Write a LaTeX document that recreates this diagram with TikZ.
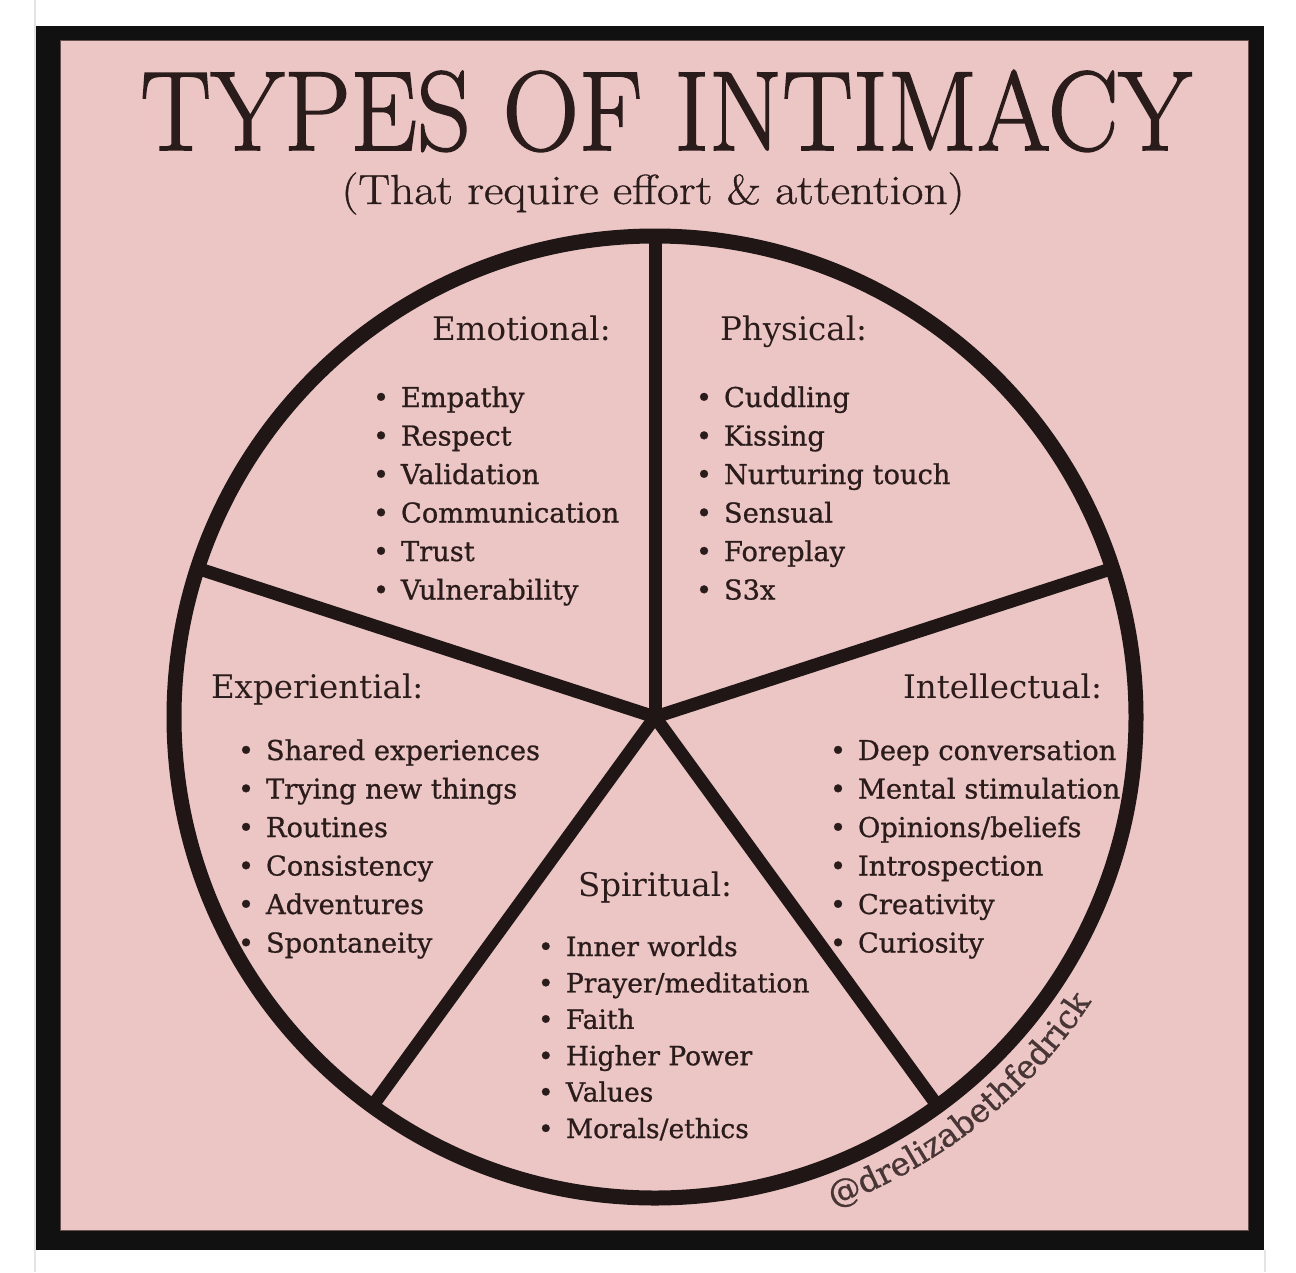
\documentclass[tikz,border=0pt]{standalone}
\usepackage{fontspec}
\newfontfamily\slab{DejaVu Serif}
\newfontfamily\slabb[FakeBold=0.8]{DejaVu Serif}
\newfontfamily\titlef[FakeBold=1.5]{Latin Modern Roman}
\newfontfamily\subf[FakeBold=0.8]{Latin Modern Roman}
\usetikzlibrary{calc,decorations.text}
\definecolor{pinkbg}{HTML}{ECC5C5}
\definecolor{ink}{HTML}{2B1C1C}
\definecolor{linec}{HTML}{1F1615}
\definecolor{framec}{HTML}{111111}
\definecolor{edgec}{HTML}{E4E4E4}
\begin{document}
\begin{tikzpicture}[x=1pt,y=-1pt,
  every node/.style={inner sep=0pt, outer sep=0pt, text=ink},
  heading/.style={anchor=base west, font=\slab\fontsize{32.5}{32.5}\selectfont},
  item/.style={anchor=base west, font=\slabb\fontsize{27.3}{27.3}\selectfont},
  sitem/.style={anchor=base west, font=\slabb\fontsize{26.5}{26.5}\selectfont},
  wheel/.style={draw=linec, line width=15pt},
  spoke/.style={draw=linec, line width=13pt, line cap=butt}]
\useasboundingbox (0,0) rectangle (1296,1272);
% background and frame
\fill[white] (0,0) rectangle (1296,1272);
\draw[edgec, line width=1.5pt] (35,0) -- (35,1272);
\draw[edgec, line width=1.5pt] (1265,1250) -- (1265,1272);
\fill[framec] (36,26) rectangle (1264,1250);
\fill[pinkbg, draw=ink!70!pinkbg, line width=1pt] (60,40) rectangle (1248,1230);
% titles
\node[anchor=base, xscale=0.935, font=\titlef\fontsize{113}{113}\selectfont] (title) at (666,150) {TYPES OF INTIMACY};
\node[anchor=base, xscale=1.13, font=\subf\fontsize{42}{42}\selectfont] (subtitle) at (653,204) {(That require effort \& attention)};
% headings
\node[heading] (hemo) at (432,340) {Emotional:};
\node[heading] (hphy) at (720,340) {Physical:};
\node[heading] (hexp) at (211,698) {Experiential:};
\node[heading] (hint) at (903,698) {Intellectual:};
\node[heading] (hspi) at (578,896) {Spiritual:};
% lists
\foreach \t [count=\i from 0] in {Empathy,Respect,Validation,Communication,Trust,Vulnerability}
  \node[item] (emo\i) at (373,407+38.5*\i) {\makebox[28pt][l]{•}\t};
\foreach \t [count=\i from 0] in {Cuddling,Kissing,Nurturing touch,Sensual,Foreplay,S3x}
  \node[item] (phy\i) at (696,407+38.5*\i) {\makebox[28pt][l]{•}\t};
\foreach \t [count=\i from 0] in {Shared experiences,Trying new things,Routines,Consistency,Adventures,Spontaneity}
  \node[item] (exp\i) at (238,760+38.5*\i) {\makebox[28pt][l]{•}\t};
\foreach \t [count=\i from 0] in {Deep conversation,Mental stimulation,Opinions/beliefs,Introspection,Creativity,Curiosity}
  \node[item] (int\i) at (830,760+38.5*\i) {\makebox[28pt][l]{•}\t};
\foreach \t [count=\i from 0] in {Inner worlds,Prayer/meditation,Faith,Higher Power,Values,Morals/ethics}
  \node[sitem] (spi\i) at (538,956+36.4*\i) {\makebox[28pt][l]{•}\t};
% wheel
\coordinate (c) at (655,717);
\foreach \a [count=\k] in {-90,-18,54,126,198}
  \coordinate (s\k) at ($(c)+(\a:481)$);
\foreach \k in {1,...,5}
  \draw[spoke] (c) -- (s\k);
\draw[wheel] (c) circle[radius=481];
% watermark
\path[decorate, decoration={text along path, text align=left,
   text={|\slabb\fontsize{32.5}{32.5}\selectfont\color{ink!85!pinkbg}|@drelizabethfedrick}}]
  ($(c)+(70:521)$) arc[start angle=70, end angle=20, radius=521];
\end{tikzpicture}
\end{document}
